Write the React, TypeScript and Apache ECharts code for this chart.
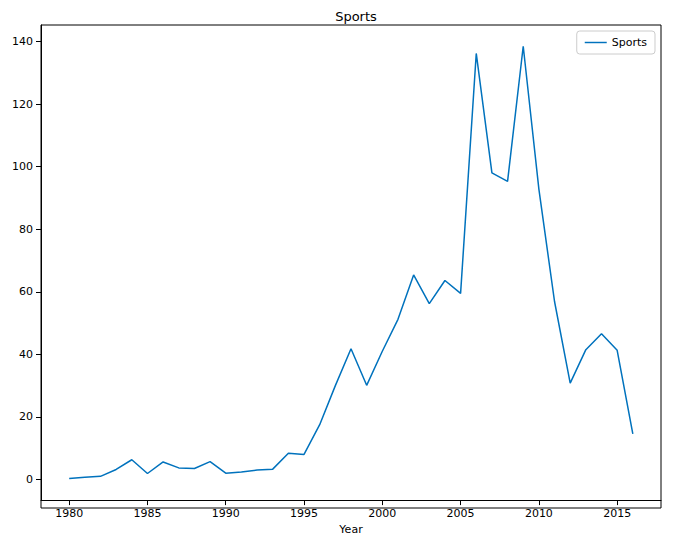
import React, { useEffect, useRef } from "react";
import * as echarts from "echarts";

const years = [
  1980, 1981, 1982, 1983, 1984, 1985, 1986, 1987, 1988, 1989, 1990, 1991, 1992,
  1993, 1994, 1995, 1996, 1997, 1998, 1999, 2000, 2001, 2002, 2003, 2004, 2005,
  2006, 2007, 2008, 2009, 2010, 2011, 2012, 2013, 2014, 2015, 2016,
];
const sports = [
  0.3, 0.7, 1.0, 3.2, 6.3, 1.9, 5.6, 3.7, 3.5, 5.7, 2.0, 2.4, 3.0, 3.3, 8.4,
  8.0, 17.5, 30.0, 41.8, 30.1, 41.0, 51.2, 65.4, 56.2, 63.6, 59.5, 136.2, 98.0,
  95.3, 138.5, 92.8, 56.9, 30.8, 41.5, 46.6, 41.3, 14.6,
];
const xTicks = [1980, 1985, 1990, 1995, 2000, 2005, 2010, 2015];
const yTicks = [0, 20, 40, 60, 80, 100, 120, 140];

export default function App() {
  const ref = useRef<HTMLDivElement | null>(null);

  useEffect(() => {
    document.body.style.margin = "0";
    const chart = echarts.init(ref.current!, null, { renderer: "svg" });
    const font = "DejaVu Sans";
    chart.setOption({
      animation: false,
      textStyle: { fontFamily: font },
      title: {
        text: "Sports",
        left: 351,
        top: 5,
        textAlign: "center",
        textStyle: { fontSize: 13, fontWeight: "normal", color: "#000", fontFamily: font },
      },
      legend: {
        right: 20,
        top: 31,
        orient: "vertical",
        icon: "path://M0,0 L30,0 L30,2 L0,2 Z",
        itemWidth: 22,
        itemHeight: 2,
        padding: [6, 8],
        borderColor: "#ccc",
        borderWidth: 1,
        borderRadius: 3,
        textStyle: { fontSize: 11, color: "#000" },
      },
      grid: { left: 41, right: 14, top: 25, bottom: 32 },
      xAxis: {
        type: "value",
        min: 1978.2,
        max: 2017.8,
        name: "Year",
        nameLocation: "middle",
        nameGap: 20,
        nameTextStyle: { fontSize: 11, color: "#000" },
        axisLine: { onZero: false, lineStyle: { color: "#000" } },
        axisTick: { show: true, customValues: xTicks, lineStyle: { color: "#000" } },
        axisLabel: { customValues: xTicks, color: "#000", fontSize: 11, formatter: (v: number) => String(v) },
        splitLine: { show: false },
      },
      yAxis: {
        type: "value",
        min: -6.6,
        max: 145.3,
        axisLine: { show: true, lineStyle: { color: "#000" } },
        axisTick: { show: true, customValues: yTicks, lineStyle: { color: "#000" } },
        axisLabel: { customValues: yTicks, color: "#000", fontSize: 11, formatter: (v: number) => String(v) },
        splitLine: { show: false },
      },
      graphic: [
        { type: "rect", shape: { x: 41, y: 25, width: 620, height: 483 }, style: { fill: "none", stroke: "#000", lineWidth: 1 }, silent: true },
      ],
      series: [
        {
          name: "Sports",
          type: "line",
          data: years.map((y, i) => [y, sports[i]]),
          symbol: "none",
          lineStyle: { color: "#0072bd", width: 1.5 },
          itemStyle: { color: "#0072bd" },
        },
      ],
    });
    return () => chart.dispose();
  }, []);

  return <div ref={ref} style={{ width: 675, height: 540 }} />;
}
